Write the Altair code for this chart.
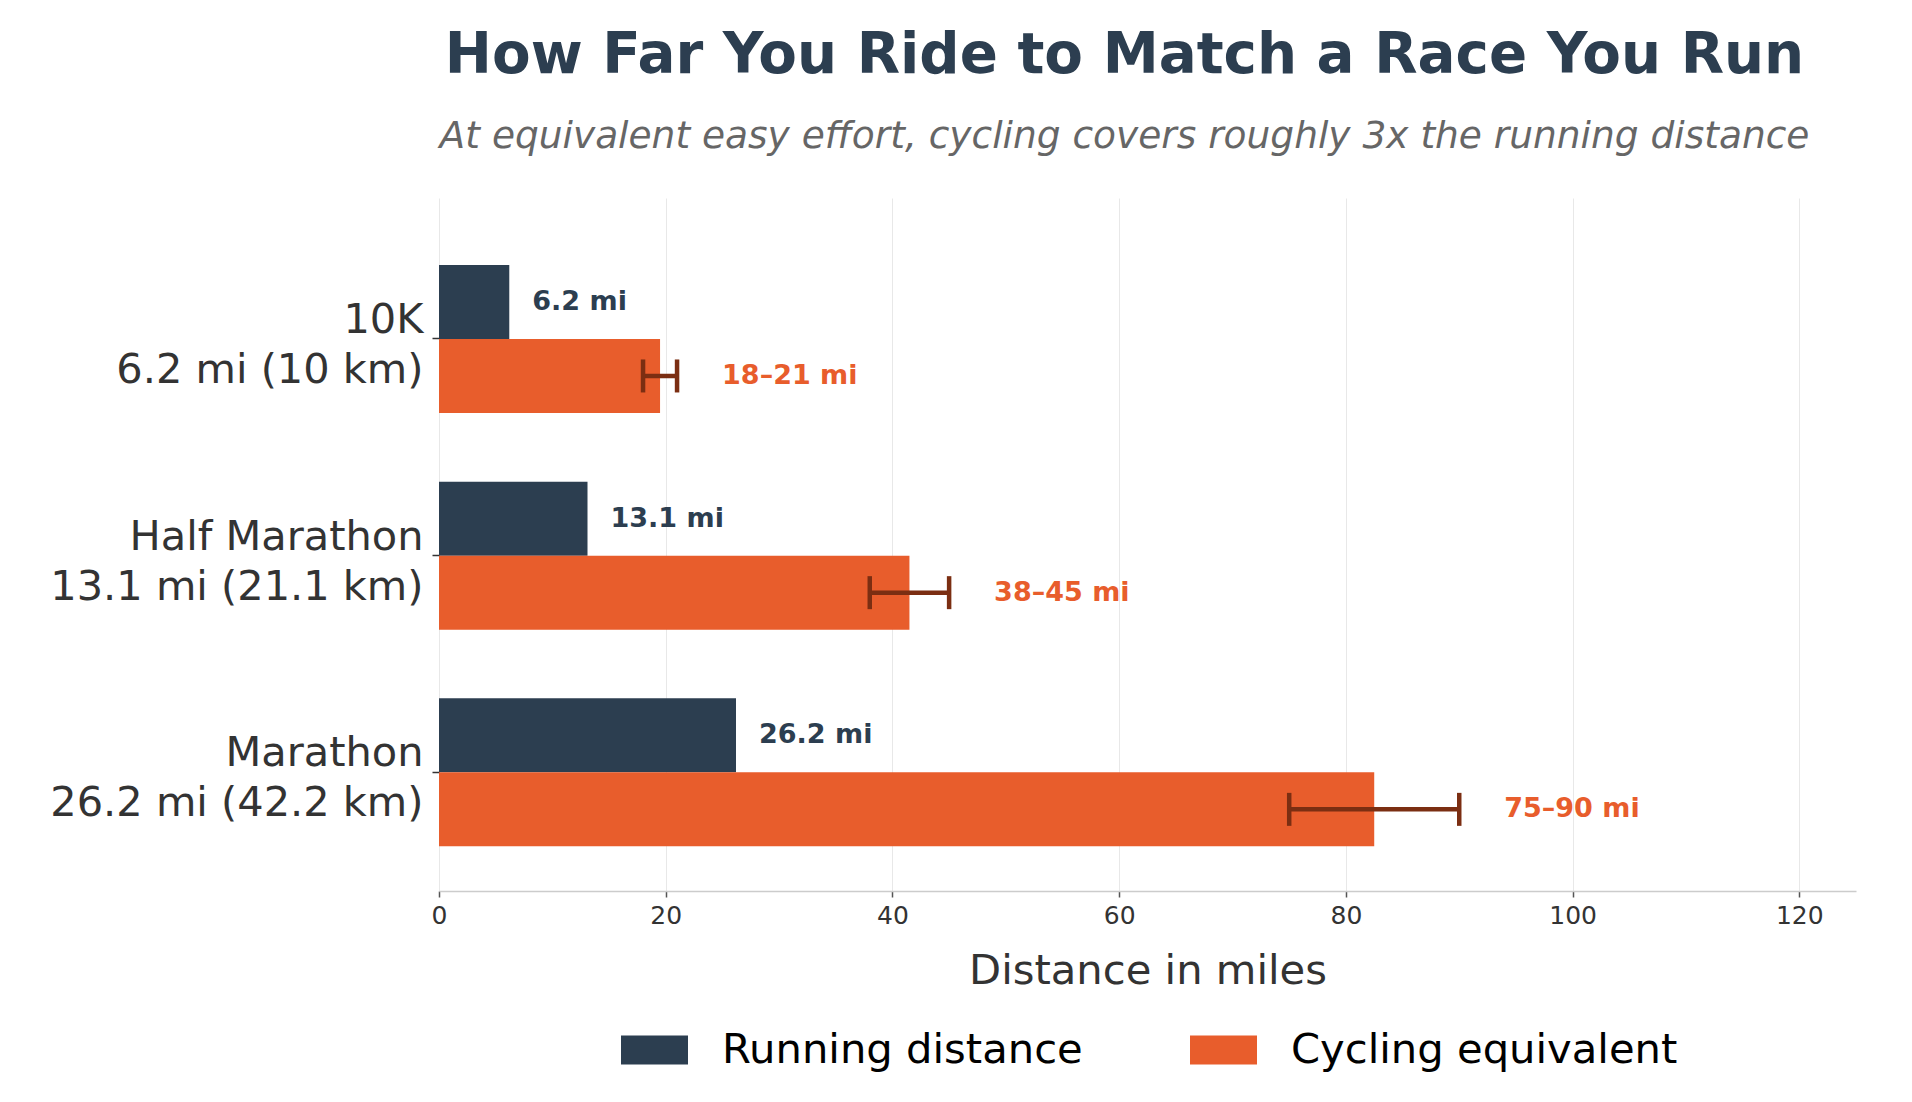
import altair as alt
import pandas as pd

races = ["10K|6.2 mi (10 km)", "Half Marathon|13.1 mi (21.1 km)", "Marathon|26.2 mi (42.2 km)"]
series = ["Running distance", "Cycling equivalent"]
running = [6.2, 13.1, 26.2]
cycling = [19.5, 41.5, 82.5]
cycling_lo = [18, 38, 75]
cycling_hi = [21, 45, 90]
run_labels = ["6.2 mi", "13.1 mi", "26.2 mi"]
cyc_labels = ["18–21 mi", "38–45 mi", "75–90 mi"]
x_ticks = [0, 20, 40, 60, 80, 100, 120]

NAVY = "#2C3E50"
ORANGE = "#E85D2C"
ERR = "#7B2E12"
FONT = "DejaVu Sans"

rows = []
for i, r in enumerate(races):
    rows.append({"race": r, "series": series[0], "value": running[i],
                 "lo": None, "hi": None, "label": run_labels[i]})
    rows.append({"race": r, "series": series[1], "value": cycling[i],
                 "lo": cycling_lo[i], "hi": cycling_hi[i], "label": cyc_labels[i]})
df = pd.DataFrame(rows)

y_enc = alt.Y(
    "race:N", sort=races, title=None,
    scale=alt.Scale(paddingInner=0.317, paddingOuter=0.2575, align=0.6),
    axis=alt.Axis(labelExpr="split(datum.label, '|')", labelFontSize=41.5,
                  labelLineHeight=50, labelColor="#333333", labelFont=FONT,
                  labelPadding=9, tickSize=7, tickColor="#333333", tickWidth=1.5,
                  domain=False, grid=False, labelAlign="right",
                  labelBaseline="middle", labelLimit=0, labelOffset=-18),
)
yoff_enc = alt.YOffset("series:N", sort=series,
                       scale=alt.Scale(paddingInner=0, paddingOuter=0))

x_scale = alt.Scale(domain=[0, 125], nice=False)

base = alt.Chart(df)

bars = base.mark_bar().encode(
    x=alt.X("value:Q", scale=x_scale,
            axis=alt.Axis(values=x_ticks, title="Distance in miles", titleFontSize=41.7,
                          titleFontWeight="normal", titleColor="#333333", titleFont=FONT,
                          titlePadding=22, labelFontSize=25, labelColor="#333333",
                          labelFont=FONT, labelPadding=6, tickSize=6, tickColor="#555555",
                          tickWidth=1.5, domainColor="#CCCCCC", domainWidth=1.5,
                          gridColor="#E8E8E8", gridWidth=1, format="d",
                          labelFlush=False)),
    y=y_enc,
    yOffset=yoff_enc,
    color=alt.Color("series:N", sort=series,
                    scale=alt.Scale(domain=series, range=[NAVY, ORANGE]),
                    legend=alt.Legend(orient="none", legendX=182, legendY=818,
                                      direction="horizontal", title=None,
                                      symbolType="M-1,-0.433H1V0.433H-1Z", symbolSize=4489,
                                      symbolStrokeWidth=0, symbolOpacity=1,
                                      labelFontSize=41.7, labelColor="black", labelFont=FONT,
                                      labelOffset=34, columnPadding=107, padding=0,
                                      labelLimit=0)),
)

cyc = base.transform_filter(alt.datum.series == series[1])

rule = cyc.mark_rule(color=ERR, strokeWidth=4.5).encode(
    x=alt.X("lo:Q", scale=x_scale), x2="hi:Q", y=y_enc, yOffset=yoff_enc)

caps = cyc.transform_fold(["lo", "hi"], as_=["end", "endval"]).mark_tick(
    color=ERR, thickness=4.5, size=33, opacity=1).encode(
    x=alt.X("endval:Q", scale=x_scale), y=y_enc, yOffset=yoff_enc)

run_text = base.transform_filter(alt.datum.series == series[0]).mark_text(
    align="left", baseline="middle", dx=23, fontSize=27, fontWeight="bold",
    color=NAVY, font=FONT).encode(
    x=alt.X("value:Q", scale=x_scale), y=y_enc, yOffset=yoff_enc, text="label:N")

cyc_text = cyc.mark_text(
    align="left", baseline="middle", dx=45, fontSize=27, fontWeight="bold",
    color=ORANGE, font=FONT).encode(
    x=alt.X("hi:Q", scale=x_scale), y=y_enc, yOffset=yoff_enc, text="label:N")

chart = alt.layer(bars, rule, caps, run_text, cyc_text).properties(
    width=1417, height=693,
    title=alt.TitleParams(
        text="How Far You Ride to Match a Race You Run",
        subtitle="At equivalent easy effort, cycling covers roughly 3x the running distance",
        font=FONT, fontSize=56.3, fontWeight="bold", color=NAVY,
        subtitleFont=FONT, subtitleFontSize=37.5, subtitleFontStyle="italic",
        subtitleColor="#666666", anchor="middle", dx=-23, offset=42,
        subtitlePadding=32),
    autosize=alt.AutoSizeParams(type="none"),
    padding={"left": 439, "top": 198, "right": 55, "bottom": 211},
    background="white",
).configure(font=FONT).configure_view(strokeWidth=0, stroke="transparent")

chart.save("out.html", embed_options={"renderer": "svg", "actions": False})
